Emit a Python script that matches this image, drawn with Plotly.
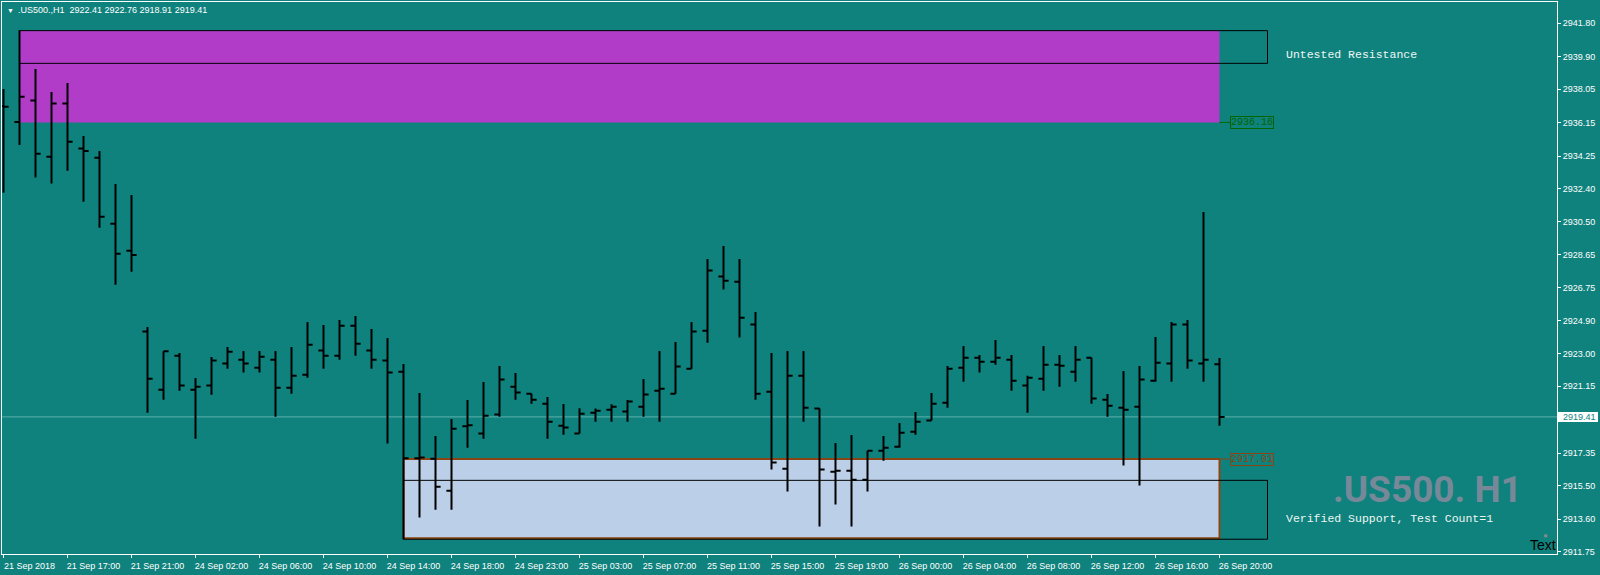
import plotly.graph_objects as go

# ---------------- data ----------------
symbol = ".US500.,H1"
bar_index = list(range(77))

opens = [2937.10, 2936.18, 2937.40, 2934.21, 2937.23, 2934.67, 2934.15, 2930.40, 2928.86, 2924.26,
         2920.96, 2922.89, 2920.96, 2921.19, 2922.44, 2922.66, 2922.21, 2922.66, 2921.07, 2921.81,
         2923.18, 2922.89, 2924.60, 2923.18, 2922.61, 2921.98, 2917.05, 2917.03, 2915.21, 2918.88,
         2918.46, 2919.54, 2921.13, 2920.73, 2920.16, 2918.91, 2918.46, 2919.65, 2919.82, 2919.71,
         2919.99, 2920.90, 2920.73, 2922.15, 2924.31, 2927.39, 2927.10, 2924.66, 2920.84, 2916.46,
         2921.75, 2919.88, 2916.29, 2916.35, 2915.84, 2917.49, 2917.71, 2918.57, 2919.20, 2920.22,
         2922.21, 2922.78, 2922.55, 2922.66, 2921.19, 2921.58, 2922.38, 2921.98, 2922.78, 2920.39,
         2919.93, 2919.99, 2921.47, 2922.44, 2924.66, 2922.44, 2922.41]
highs = [2938.06, 2941.40, 2939.20, 2937.89, 2938.40, 2935.39, 2934.53, 2932.66, 2932.03, 2924.52,
         2923.14, 2923.05, 2921.62, 2922.82, 2923.39, 2923.16, 2923.16, 2923.16, 2923.39, 2924.81,
         2924.64, 2924.92, 2925.15, 2924.41, 2923.90, 2922.42, 2920.77, 2918.32, 2919.29, 2920.37,
         2921.40, 2922.31, 2921.91, 2920.73, 2920.54, 2920.14, 2919.90, 2919.88, 2920.13, 2920.37,
         2921.57, 2923.16, 2923.67, 2924.81, 2928.39, 2929.13, 2928.39, 2925.38, 2923.05, 2923.16,
         2923.16, 2919.88, 2917.93, 2918.38, 2917.49, 2918.32, 2919.06, 2919.69, 2920.77, 2922.31,
         2923.44, 2922.93, 2923.78, 2922.93, 2921.75, 2923.44, 2922.93, 2923.44, 2922.78, 2920.71,
         2922.02, 2922.31, 2923.96, 2924.81, 2924.92, 2931.07, 2922.76]
lows = [2932.16, 2934.88, 2933.02, 2932.68, 2933.41, 2931.65, 2930.17, 2926.93, 2927.67, 2919.65,
        2920.39, 2920.90, 2918.17, 2920.67, 2922.15, 2921.93, 2921.93, 2919.42, 2920.73, 2921.64,
        2922.15, 2922.66, 2922.89, 2922.15, 2917.89, 2912.45, 2913.68, 2914.13, 2914.13, 2917.66,
        2918.17, 2919.42, 2920.39, 2920.16, 2918.17, 2918.40, 2918.46, 2919.14, 2919.14, 2919.14,
        2919.42, 2919.14, 2920.73, 2922.15, 2923.63, 2926.65, 2923.92, 2920.39, 2916.41, 2915.16,
        2919.14, 2913.17, 2914.42, 2913.17, 2915.16, 2916.92, 2917.66, 2918.40, 2919.20, 2919.93,
        2921.41, 2921.93, 2922.38, 2920.90, 2919.65, 2920.90, 2921.13, 2921.41, 2920.16, 2919.42,
        2916.64, 2915.50, 2921.41, 2921.41, 2922.15, 2921.41, 2918.91]
closes = [2937.05, 2937.62, 2934.38, 2937.23, 2935.06, 2934.53, 2930.80, 2928.69, 2928.62, 2921.58,
          2923.14, 2921.19, 2921.13, 2922.61, 2923.12, 2922.44, 2922.83, 2921.07, 2921.75, 2923.52,
          2922.89, 2924.60, 2923.57, 2922.66, 2921.93, 2917.05, 2917.10, 2915.44, 2918.74, 2918.93,
          2919.48, 2921.53, 2920.79, 2920.39, 2919.14, 2918.80, 2919.59, 2919.76, 2919.99, 2920.28,
          2920.68, 2921.01, 2922.27, 2924.26, 2927.73, 2927.16, 2925.05, 2920.73, 2916.81, 2921.75,
          2919.93, 2916.41, 2916.35, 2915.84, 2917.49, 2917.66, 2918.51, 2919.14, 2920.16, 2922.15,
          2922.78, 2922.55, 2922.78, 2921.47, 2921.64, 2922.38, 2922.32, 2922.66, 2920.45, 2920.05,
          2919.82, 2921.53, 2922.49, 2924.66, 2922.61, 2922.66, 2919.41]

tick_bars = [0, 4, 8, 12, 16, 20, 24, 28, 32, 36, 40, 44, 48, 52, 56, 60, 64, 68, 72, 76]
tick_labels = ["21 Sep 2018", "21 Sep 17:00", "21 Sep 21:00", "24 Sep 02:00", "24 Sep 06:00",
               "24 Sep 10:00", "24 Sep 14:00", "24 Sep 18:00", "24 Sep 23:00", "25 Sep 03:00",
               "25 Sep 07:00", "25 Sep 11:00", "25 Sep 15:00", "25 Sep 19:00", "26 Sep 00:00",
               "26 Sep 04:00", "26 Sep 08:00", "26 Sep 12:00", "26 Sep 16:00", "26 Sep 20:00"]

price_ticks = [2941.80, 2939.90, 2938.05, 2936.15, 2934.25, 2932.40, 2930.50, 2928.65, 2926.75,
               2924.90, 2923.00, 2921.15, 2917.35, 2915.50, 2913.60, 2911.75]
price_tick_labels = ["%.2f" % v for v in price_ticks]

current_price = 2919.41

# zones
res_start_bar, zone_end_bar, box_end_bar = 1, 76, 79
res_zone_low, res_zone_high, res_box_low = 2936.16, 2941.38, 2939.52
sup_start_bar = 25
sup_zone_low, sup_zone_high = 2912.50, 2917.01
sup_box_low, sup_box_high = 2912.45, 2915.80
label_bar = 76.66
text_bar = 80.0

# ---------------- style ----------------
BG = "#10827D"
SANS = "Liberation Sans, Arial, sans-serif"
MONO = "Liberation Mono, Courier New, monospace"
NARROW = "Liberation Sans Narrow, Arial Narrow, Roboto, sans-serif"
LABEL_WHITE = "#EEF6F4"

x_range = [-0.094, -0.094 + 1555 / 16]
y_range = [2911.61, 2943.01]

fig = go.Figure()
fig.add_trace(go.Ohlc(
    x=bar_index, open=opens, high=highs, low=lows, close=closes,
    increasing=dict(line=dict(color="black", width=2)),
    decreasing=dict(line=dict(color="black", width=2)),
    tickwidth=0.32, showlegend=False, hoverinfo="skip",
))

shapes = [
    dict(type="line", xref="paper", x0=0, x1=1, yref="y", y0=current_price, y1=current_price,
         line=dict(color="#5AAFAA", width=1), layer="below"),
    dict(type="rect", x0=res_start_bar, x1=zone_end_bar, y0=res_zone_low, y1=res_zone_high,
         fillcolor="#B03CC8", line=dict(width=0), layer="below"),
    dict(type="rect", x0=res_start_bar, x1=box_end_bar, y0=res_box_low, y1=res_zone_high,
         fillcolor="rgba(0,0,0,0)", line=dict(color="black", width=1), layer="below"),
    dict(type="rect", x0=sup_start_bar, x1=zone_end_bar, y0=sup_zone_low, y1=sup_zone_high,
         fillcolor="#BCCFE8", line=dict(color="#8B4513", width=2), layer="below"),
    dict(type="rect", x0=sup_start_bar, x1=box_end_bar, y0=sup_box_low, y1=sup_box_high,
         fillcolor="rgba(0,0,0,0)", line=dict(color="black", width=1), layer="below"),
    dict(type="line", x0=zone_end_bar, x1=label_bar, y0=res_zone_low, y1=res_zone_low,
         line=dict(color="#006400", width=1), layer="above"),
    dict(type="line", x0=zone_end_bar, x1=label_bar, y0=sup_zone_high, y1=sup_zone_high,
         line=dict(color="#8B4513", width=1), layer="above"),
]

annotations = [
    dict(x=label_bar, y=res_zone_low, text="%.2f" % res_zone_low, xanchor="left", yanchor="middle",
         showarrow=False, font=dict(family=MONO, size=10, color="#006400"),
         bordercolor="#006400", borderwidth=1, borderpad=0),
    dict(x=label_bar, y=sup_zone_high, text="%.2f" % sup_zone_high, xanchor="left", yanchor="middle",
         showarrow=False, font=dict(family=MONO, size=10, color="#8B4513"),
         bordercolor="#8B4513", borderwidth=1, borderpad=0),
    dict(x=text_bar, y=2940.05, text="Untested Resistance", xanchor="left", yanchor="middle",
         showarrow=False, font=dict(family=MONO, size=11.5, color=LABEL_WHITE)),
    dict(x=text_bar, y=2913.62, text="Verified Support, Test Count=1", xanchor="left", yanchor="middle",
         showarrow=False, font=dict(family=MONO, size=11.5, color=LABEL_WHITE)),
    dict(x=89.0, y=2915.30, text=".US500. H1", xanchor="center", yanchor="middle", showarrow=False,
         font=dict(family=NARROW, size=37, color="#778899", weight="bold")),
    dict(xref="paper", yref="paper", x=0, y=1, xshift=3, yshift=-3, text="\u25BC", xanchor="left",
         yanchor="top", showarrow=False, font=dict(family=SANS, size=7, color="white")),
    dict(xref="paper", yref="paper", x=0, y=1, xshift=14, yshift=-1,
         text=symbol + "\u00a0\u00a02922.41 2922.76 2918.91 2919.41", xanchor="left",
         yanchor="top", showarrow=False, font=dict(family=SANS, size=9, color="white")),
    dict(xref="paper", x=1, y=current_price, xshift=1,
         text="\u00a0\u00a0%.2f\u00a0" % current_price,
         xanchor="left", yanchor="middle", showarrow=False, bgcolor="white",
         borderpad=0, borderwidth=0, font=dict(family=SANS, size=9, color=BG)),
    dict(xref="paper", yref="paper", x=1, y=0, xshift=1, yshift=-1, text="Text", xanchor="right",
         yanchor="bottom", showarrow=False, font=dict(family=SANS, size=14, color="black")),
    dict(xref="paper", yref="paper", x=1, y=0, xshift=-7, yshift=12, text="\u25CF", xanchor="right",
         yanchor="bottom", showarrow=False, font=dict(family=SANS, size=8, color="#7F8C8C")),
]

fig.update_layout(
    width=1600, height=575,
    margin=dict(l=2, r=43, t=2, b=21, pad=0),
    paper_bgcolor=BG, plot_bgcolor=BG,
    showlegend=False,
    shapes=shapes, annotations=annotations,
    xaxis=dict(range=x_range, showgrid=False, zeroline=False, rangeslider=dict(visible=False),
               tickmode="array", tickvals=tick_bars, ticktext=tick_labels,
               ticks="outside", ticklen=3, tickcolor="white", tickwidth=1,
               showline=True, linecolor="white", linewidth=1, mirror=True,
               tickfont=dict(family=SANS, size=9, color="white"),
               ticklabelshift=26, ticklabelstandoff=0, automargin=False, fixedrange=True),
    yaxis=dict(range=y_range, side="right", showgrid=False, zeroline=False,
               tickmode="array", tickvals=price_ticks, ticktext=price_tick_labels,
               ticks="outside", ticklen=3, tickcolor="white", tickwidth=1,
               showline=True, linecolor="white", linewidth=1, mirror=True,
               tickfont=dict(family=SANS, size=9, color="white"),
               automargin=False, fixedrange=True),
)

fig.write_html("out.html", config={"displayModeBar": False},
               post_script="document.body.style.margin='0';document.body.style.background='%s';" % BG)
